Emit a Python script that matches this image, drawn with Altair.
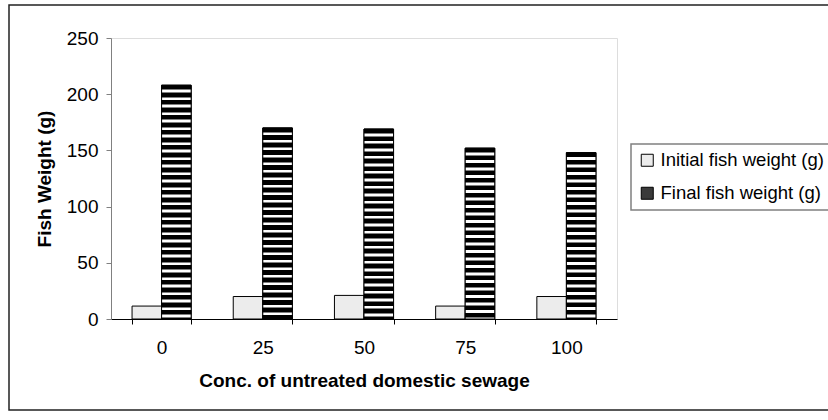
import math
import altair as alt
import pandas as pd

conc = ["0", "25", "50", "75", "100"]
initial = [11.5, 20, 21, 11.5, 20]
final = [208, 170, 169, 152, 148]
series_names = ["Initial fish weight (g)", "Final fish weight (g)"]

rows = []
for c, a, b in zip(conc, initial, final):
    rows.append({"conc": c, "series": series_names[0], "w": a})
    rows.append({"conc": c, "series": series_names[1], "w": b})
df = pd.DataFrame(rows)

W, H = 506, 281
YMAX = 250


def stripe_gradient(value):
    h = value * H / YMAX
    segs = [("#000000", 4.2), ("#808080", 0.6), ("#ffffff", 2.1), ("#808080", 0.6)]
    stops = []
    pos = 0.0
    while pos < h:
        for col, ln in segs:
            a = min(pos / h, 1.0)
            b = min((pos + ln) / h, 1.0)
            stops.append(alt.GradientStop(offset=a, color=col))
            stops.append(alt.GradientStop(offset=b, color=col))
            pos += ln
            if pos >= h:
                break
    return alt.LinearGradient(gradient="linear", x1=0, y1=0, x2=0, y2=1, stops=stops)


xscale = alt.Scale(paddingInner=0.416, paddingOuter=0.208)
x_enc = alt.X(
    "conc:N",
    sort=conc,
    scale=xscale,
    title="Conc. of untreated domestic sewage",
    axis=alt.Axis(
        labelAngle=0,
        tickBand="extent",
        domainColor="#000000",
        tickColor="#000000",
        tickSize=5,
        labelFontSize=19,
        labelPadding=14,
        titleFontSize=19,
        titleFontWeight="bold",
        titlePadding=14,
    ),
)
xo_enc = alt.XOffset("series:N", sort=series_names)
y_enc = alt.Y(
    "w:Q",
    scale=alt.Scale(domain=[0, YMAX], nice=False),
    title="Fish Weight (g)",
    axis=alt.Axis(
        values=[0, 50, 100, 150, 200, 250],
        grid=False,
        domainColor="#808080",
        tickColor="#808080",
        tickSize=5,
        labelFontSize=19,
        labelPadding=8,
        titleFontSize=19,
        titleFontWeight="bold",
        titlePadding=12,
    ),
)

base = alt.Chart(df).mark_bar(stroke="#000000", strokeWidth=1).encode(
    x=x_enc,
    xOffset=xo_enc,
    y=y_enc,
    color=alt.Color(
        "series:N",
        sort=series_names,
        scale=alt.Scale(domain=series_names, range=["#ececec", "#3a3a3a"]),
        legend=alt.Legend(
            title=None,
            orient="none",
            legendX=520,
            legendY=106,
            strokeColor="#808080",
            fillColor="#ffffff",
            padding=7,
            labelFontSize=18.5,
            labelOffset=4,
            labelLimit=0,
            rowPadding=14,
            symbolType="square",
            symbolSize=144,
            symbolStrokeColor="#000000",
            symbolStrokeWidth=1,
        ),
    ),
)

overlays = []
for c, v in zip(conc, final):
    overlays.append(
        alt.Chart(df)
        .transform_filter((alt.datum.conc == c) & (alt.datum.series == series_names[1]))
        .mark_bar(fill=stripe_gradient(v), stroke="#000000", strokeWidth=1)
        .encode(x=x_enc, xOffset=xo_enc, y=y_enc)
    )

frame = alt.Chart(pd.DataFrame({"f": [0]})).mark_rect(
    filled=False, stroke="#222222", strokeWidth=1.5
).encode(
    x=alt.value(-102), x2=alt.value(1000), y=alt.value(-33), y2=alt.value(372)
)

chart = (
    alt.layer(base, *overlays, frame)
    .properties(
        width=W,
        height=H,
        padding={"left": 111, "top": 38, "right": 211, "bottom": 101},
        autosize=alt.AutoSizeParams(type="none"),
    )
    .configure_view(stroke=None)
    .configure(font="Liberation Sans")
    .configure_axis(labelColor="#000000", titleColor="#000000", labelFont="Liberation Sans", titleFont="Liberation Sans")
    .configure_legend(labelColor="#000000", labelFont="Liberation Sans", strokeWidth=1.5)
)

chart.save("out.html", embed_options={"renderer": "svg", "actions": False})
